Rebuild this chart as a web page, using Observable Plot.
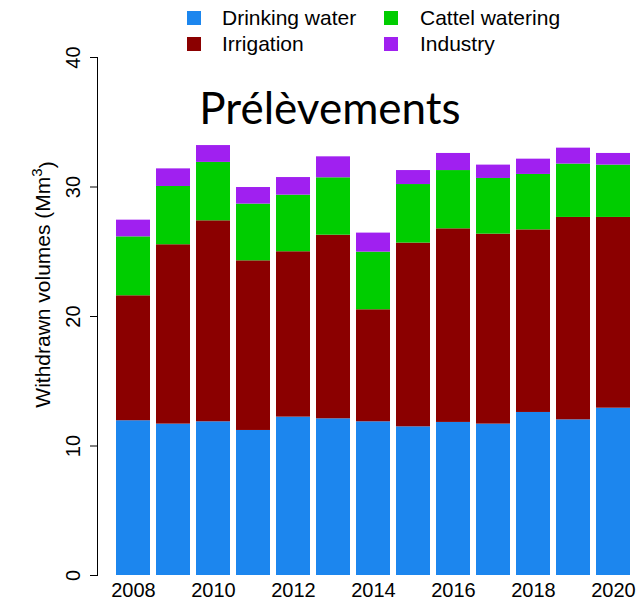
<!DOCTYPE html>
<html>
<head>
<meta charset="utf-8">
<script src="https://cdn.jsdelivr.net/npm/d3@7"></script>
<script src="https://cdn.jsdelivr.net/npm/@observablehq/plot@0.6"></script>
<style>
  body { margin: 0; background: white; font-family: "Liberation Sans", Arial, sans-serif; }
  #wrap { width: 644px; height: 604px; position: relative; }
  #legend { position: relative; height: 56px; font-size: 21px; color: #000; }
  #legend .sw { position: absolute; width: 14px; height: 14px; }
  #legend .lb { position: absolute; line-height: 21px; white-space: nowrap; }
</style>
</head>
<body>
<div id="wrap">
  <div id="legend"></div>
  <div id="chart"></div>
</div>
<script>
const years = [2008, 2009, 2010, 2011, 2012, 2013, 2014, 2015, 2016, 2017, 2018, 2019, 2020];
const seriesNames = ["Drinking water", "Irrigation", "Cattel watering", "Industry"];
const seriesColors = ["#1C86EE", "#8B0000", "#00CD00", "#A020F0"];
const drinking   = [11.95, 11.69, 11.87, 11.20, 12.23, 12.10, 11.87, 11.48, 11.82, 11.69, 12.59, 12.02, 12.92];
const irrigation = [9.65, 13.85, 15.52, 13.10, 12.77, 14.18, 8.65, 14.19, 14.95, 14.67, 14.10, 15.63, 14.73];
const cattle     = [4.55, 4.50, 4.51, 4.38, 4.37, 4.43, 4.45, 4.52, 4.50, 4.30, 4.28, 4.12, 4.04];
const industry   = [1.29, 1.36, 1.30, 1.28, 1.36, 1.62, 1.47, 1.08, 1.32, 1.03, 1.18, 1.23, 0.90];
const yTicks = [0, 10, 20, 30, 40];
const xTickYears = [2008, 2010, 2012, 2014, 2016, 2018, 2020];
const title = "Prélèvements";
const yLabelMain = "Withdrawn volumes (Mm";
const yLabelSup = "3";
const yLabelEnd = ")";

const seriesValues = [drinking, irrigation, cattle, industry];
const data = [];
years.forEach((yr, i) => {
  seriesNames.forEach((s, k) => data.push({year: yr, series: s, value: seriesValues[k][i]}));
});

// Legend (HTML, above the SVG)
const legend = document.getElementById("legend");
const legendPos = [
  {sx: 187, sy: 11, tx: 222, ty: 7},
  {sx: 187, sy: 37, tx: 222, ty: 33},
  {sx: 384, sy: 11, tx: 420, ty: 7},
  {sx: 384, sy: 37, tx: 420, ty: 33}
];
seriesNames.forEach((s, k) => {
  const p = legendPos[k];
  const sw = document.createElement("div");
  sw.className = "sw";
  sw.style.left = p.sx + "px"; sw.style.top = p.sy + "px";
  sw.style.background = seriesColors[k];
  const lb = document.createElement("div");
  lb.className = "lb";
  lb.style.left = p.tx + "px"; lb.style.top = p.ty + "px";
  lb.textContent = s;
  legend.appendChild(sw); legend.appendChild(lb);
});

const chart = Plot.plot({
  width: 644,
  height: 548,
  marginLeft: 97,
  marginRight: 14,
  marginTop: 1,
  marginBottom: 29,
  style: {overflow: "visible", fontFamily: "Liberation Sans, Arial, sans-serif", fontSize: "20px", background: "transparent"},
  x: {type: "band", domain: years, paddingInner: 0.15, paddingOuter: 0, insetLeft: 19, label: null},
  y: {domain: [0, 40], label: null},
  color: {domain: seriesNames, range: seriesColors},
  marks: [
    Plot.barY(data, {x: "year", y: "value", fill: "series", order: seriesNames}),
    Plot.frame({anchor: "left", strokeWidth: 1}),
    Plot.axisY({ticks: yTicks, tickSize: 7, tickFormat: () => "", label: null}),
    Plot.text(yTicks, {y: d => d, text: d => String(d), frameAnchor: "left", textAnchor: "middle", dx: -23.5, rotate: -90, fontSize: 20}),
    Plot.axisX({ticks: xTickYears, tickSize: 0, tickPadding: 7, fontSize: 20, label: null, tickFormat: d => String(d)}),
    Plot.text([yLabelMain + yLabelSup + yLabelEnd], {frameAnchor: "left", textAnchor: "middle", dx: -54, dy: -32, rotate: -90, fontSize: 21, className: "ylab"}),
    Plot.text([title], {frameAnchor: "top", dx: -34, dy: 66, lineAnchor: "bottom", fontSize: 44, fontFamily: "Lato"})
  ]
});
document.getElementById("chart").appendChild(chart);

// Render the superscript of the y-axis label as a raised tspan
d3.select(chart).selectAll("g.ylab text").each(function() {
  const t = d3.select(this);
  t.text(null);
  t.append("tspan").text(yLabelMain);
  t.append("tspan").attr("dy", "-0.55em").attr("font-size", 15).text(yLabelSup);
  t.append("tspan").attr("dy", "0.55em").text(yLabelEnd);
});
</script>
</body>
</html>
